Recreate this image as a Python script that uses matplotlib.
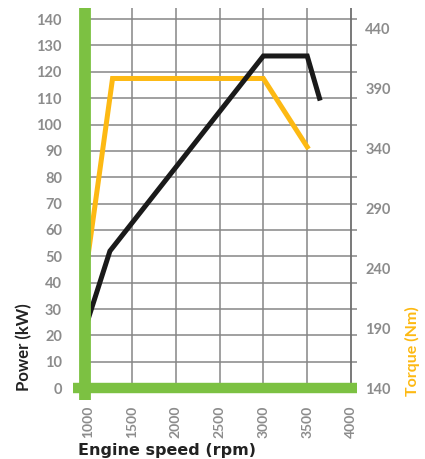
import matplotlib
matplotlib.use("Agg")
import matplotlib.pyplot as plt

# Data
power_rpm = [1000, 1250, 3000, 3500, 3640]
power_kw = [26, 52, 126, 126, 110]
torque_rpm = [1000, 1280, 3000, 3500]
torque_nm = [250, 398, 398, 341]
x_ticks = [1000, 1500, 2000, 2500, 3000, 3500, 4000]
left_ticks = list(range(0, 141, 10))
right_ticks = [140, 190, 240, 290, 340, 390, 440]

GREEN = "#7cc142"
ORANGE = "#fdb913"
GRAY = "#868686"
TICKGRAY = "#8c8c8c"
FONT = "Lato"

W, H = 425, 459
fig = plt.figure(figsize=(W / 100, H / 100), dpi=100)
l, r, t, b = 73, 357, 8, 400
ax = fig.add_axes([l / W, (H - b) / H, (r - l) / W, (b - t) / H])
ax.set_xlim(829, 4068)
ax.set_ylim(-4.5, 144.2)
for s in ax.spines.values():
    s.set_visible(False)

# grid
for yv in left_ticks[1:]:
    ax.plot([1000, 4068], [yv, yv], color=GRAY, lw=1.1, zorder=1)
for xv in x_ticks[1:-1]:
    ax.plot([xv, xv], [0, 144.2], color=GRAY, lw=1.1, zorder=1)
ax.plot([4000, 4000], [0, 144.2], color="#6e6e6e", lw=1.3, zorder=1)

# data lines
ax.plot(torque_rpm, [(v - 140) * 140 / 307.5 for v in torque_nm], color=ORANGE,
        lw=3.6, zorder=3, solid_joinstyle="miter")
ax.plot(power_rpm, power_kw, color="#1a1a1a", lw=3.6, zorder=4, solid_joinstyle="miter")

# green axes bars
ax.plot([829, 4068], [0, 0], color=GREEN, lw=7.5, zorder=5, solid_capstyle="butt")
ax.plot([970, 970], [-4.5, 144.2], color=GREEN, lw=8.5, zorder=5, solid_capstyle="butt")

ax.set_xticks(x_ticks)
ax.set_xticklabels([str(v) for v in x_ticks], rotation=90, fontsize=10,
                   color=TICKGRAY, family=FONT, fontweight="bold")
ax.set_yticks(left_ticks)
ax.set_yticklabels([str(v) for v in left_ticks], fontsize=10.5, color=TICKGRAY,
                   family=FONT, fontweight="bold")
ax.tick_params(axis="both", length=0)
ax.tick_params(axis="y", pad=8)
ax.tick_params(axis="x", pad=4)

ax2 = ax.twinx()
ax2.set_ylim(140 - 12 / 1.197, 140 + 380 / 1.197)
for s in ax2.spines.values():
    s.set_visible(False)
ax2.set_yticks(right_ticks)
ax2.set_yticklabels([str(v) for v in right_ticks], fontsize=10.5, color=TICKGRAY,
                    family=FONT, fontweight="bold")
ax2.tick_params(axis="y", length=0, pad=6)

fig.text(24 / W, 1 - 347 / H, "Power (kW)", rotation=90, ha="center", va="center",
         fontsize=12, fontweight="bold", family=FONT, color="#222222")
fig.text(412 / W, 1 - 351 / H, "Torque (Nm)", rotation=90, ha="center", va="center",
         fontsize=11.5, fontweight="bold", family=FONT, color=ORANGE)
fig.text(78 / W, 1 - 451 / H, "Engine speed (rpm)", ha="left", va="center",
         fontsize=11.5, fontweight="bold", family="DejaVu Sans", color="#222222")

fig.savefig("out.png", dpi=100)
